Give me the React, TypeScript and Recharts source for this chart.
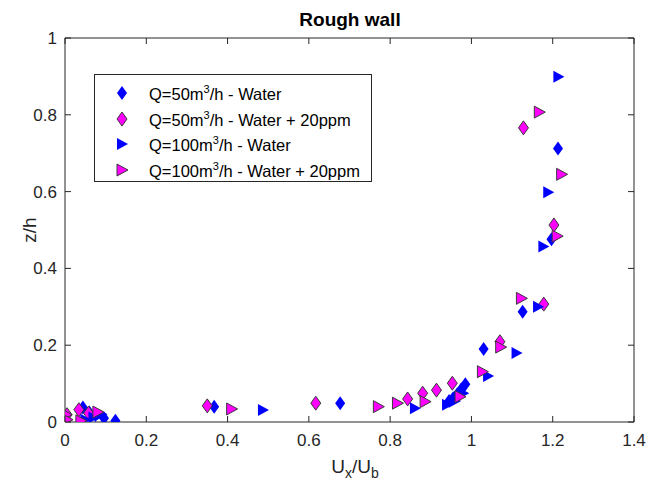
import React from 'react';
import { ScatterChart, Scatter, XAxis, YAxis } from 'recharts';

// Q=50 m3/h - Water (blue diamonds)
const q50Water = [
  { x: 0.124, y: 0.003 }, { x: 0.096, y: 0.010 }, { x: 0.075, y: 0.018 }, { x: 0.060, y: 0.025 },
  { x: 0.044, y: 0.038 }, { x: 0.367, y: 0.040 }, { x: 0.677, y: 0.049 }, { x: 0.945, y: 0.055 },
  { x: 0.955, y: 0.062 }, { x: 0.965, y: 0.072 }, { x: 0.975, y: 0.085 }, { x: 0.985, y: 0.098 },
  { x: 1.030, y: 0.190 }, { x: 1.126, y: 0.287 }, { x: 1.197, y: 0.476 }, { x: 1.213, y: 0.712 },
];
// Q=50 m3/h - Water + 20ppm (magenta diamonds)
const q50Polymer = [
  { x: 0.005, y: 0.019 }, { x: 0.034, y: 0.032 }, { x: 0.058, y: 0.023 }, { x: 0.350, y: 0.042 },
  { x: 0.617, y: 0.049 }, { x: 0.843, y: 0.060 }, { x: 0.880, y: 0.075 }, { x: 0.914, y: 0.083 },
  { x: 0.953, y: 0.101 }, { x: 1.070, y: 0.209 }, { x: 1.178, y: 0.307 }, { x: 1.203, y: 0.513 },
  { x: 1.128, y: 0.766 },
];
// Q=100 m3/h - Water (blue right triangles)
const q100Water = [
  { x: 0.050, y: 0.006 }, { x: 0.070, y: 0.012 }, { x: 0.090, y: 0.020 }, { x: 0.487, y: 0.031 },
  { x: 0.861, y: 0.036 }, { x: 0.940, y: 0.045 }, { x: 0.960, y: 0.055 }, { x: 0.980, y: 0.075 },
  { x: 1.041, y: 0.120 }, { x: 1.111, y: 0.180 }, { x: 1.164, y: 0.300 }, { x: 1.177, y: 0.457 },
  { x: 1.189, y: 0.598 }, { x: 1.214, y: 0.899 },
];
// Q=100 m3/h - Water + 20ppm (magenta right triangles)
const q100Polymer = [
  { x: 0.003, y: 0.019 }, { x: 0.005, y: 0.006 }, { x: 0.039, y: 0.003 }, { x: 0.081, y: 0.026 },
  { x: 0.410, y: 0.034 }, { x: 0.771, y: 0.040 }, { x: 0.818, y: 0.049 }, { x: 0.886, y: 0.053 },
  { x: 0.972, y: 0.066 }, { x: 1.027, y: 0.131 }, { x: 1.072, y: 0.195 }, { x: 1.123, y: 0.322 },
  { x: 1.211, y: 0.484 }, { x: 1.222, y: 0.645 }, { x: 1.167, y: 0.807 },
];

const xTicks = [0, 0.2, 0.4, 0.6, 0.8, 1, 1.2, 1.4];
const yTicks = [0, 0.2, 0.4, 0.6, 0.8, 1];

const AX = '#262626';
const BLUE = '#0000FF';
const MAGENTA = '#FF00FF';
const EDGE = '#3a3a3a';
const FONT = 'Liberation Sans, Arial, Helvetica, sans-serif';

const fmt = (v: number) => String(v);

const diamondPath = (cx: number, cy: number) =>
  `M${cx},${cy - 7} L${cx + 5},${cy} L${cx},${cy + 7} L${cx - 5},${cy} Z`;
const triPath = (cx: number, cy: number) =>
  `M${cx - 5},${cy - 6} L${cx + 6},${cy} L${cx - 5},${cy + 6} Z`;

const makeShape = (kind: 'd' | 't', fill: string, stroke?: string) => (props: any) => {
  const { cx, cy } = props;
  if (cx == null || cy == null) return <g />;
  const d = kind === 'd' ? diamondPath(cx, cy) : triPath(cx, cy);
  return <path d={d} fill={fill} stroke={stroke || 'none'} strokeWidth={stroke ? 1 : 0} />;
};

const BottomTick = (props: any) => {
  const { x, y, payload } = props;
  return (
    <g>
      <line x1={x} x2={x} y1={y} y2={y - 6} stroke={AX} />
      <text x={x} y={y + 24} textAnchor="middle" fontSize={17} fontFamily={FONT} fill={AX}>
        {fmt(payload.value)}
      </text>
    </g>
  );
};
const TopTick = (props: any) => {
  const { x, y } = props;
  return <line x1={x} x2={x} y1={y} y2={y + 6} stroke={AX} />;
};
const LeftTick = (props: any) => {
  const { x, y, payload } = props;
  return (
    <g>
      <line x1={x} x2={x + 6} y1={y} y2={y} stroke={AX} />
      <text x={x - 8} y={y + 6} textAnchor="end" fontSize={17} fontFamily={FONT} fill={AX}>
        {fmt(payload.value)}
      </text>
    </g>
  );
};
const RightTick = (props: any) => {
  const { x, y } = props;
  return <line x1={x} x2={x - 6} y1={y} y2={y} stroke={AX} />;
};

const legendItems = [
  { kind: 'd' as const, fill: BLUE, stroke: undefined, pre: 'Q=50m', post: '/h - Water' },
  { kind: 'd' as const, fill: MAGENTA, stroke: EDGE, pre: 'Q=50m', post: '/h - Water + 20ppm' },
  { kind: 't' as const, fill: BLUE, stroke: undefined, pre: 'Q=100m', post: '/h - Water' },
  { kind: 't' as const, fill: MAGENTA, stroke: EDGE, pre: 'Q=100m', post: '/h - Water + 20ppm' },
];

export default function App() {
  return (
    <div style={{ position: 'absolute', left: 0, top: 0, width: 648, height: 485, background: '#fff', fontFamily: FONT }}>
      <ScatterChart width={648} height={485} margin={{ top: 37, right: 13, bottom: 0, left: 0 }}>
        <XAxis
          xAxisId={0}
          type="number"
          dataKey="x"
          domain={[0, 1.4]}
          ticks={xTicks}
          height={63}
          tickSize={0}
          tickMargin={0}
          tickLine={false}
          axisLine={{ stroke: AX }}
          tick={<BottomTick />}
          interval={0}
          allowDataOverflow
        />
        <XAxis
          xAxisId="top"
          orientation="top"
          type="number"
          dataKey="x"
          domain={[0, 1.4]}
          ticks={xTicks}
          height={1}
          tickSize={0}
          tickMargin={0}
          tickLine={false}
          axisLine={{ stroke: AX }}
          tick={<TopTick />}
          interval={0}
          allowDataOverflow
        />
        <YAxis
          yAxisId={0}
          type="number"
          dataKey="y"
          domain={[0, 1]}
          ticks={yTicks}
          width={65}
          tickSize={0}
          tickMargin={0}
          tickLine={false}
          axisLine={{ stroke: AX }}
          tick={<LeftTick />}
          interval={0}
          allowDataOverflow
        />
        <YAxis
          yAxisId="right"
          orientation="right"
          type="number"
          dataKey="y"
          domain={[0, 1]}
          ticks={yTicks}
          width={1}
          tickSize={0}
          tickMargin={0}
          tickLine={false}
          axisLine={{ stroke: AX }}
          tick={<RightTick />}
          interval={0}
          allowDataOverflow
        />
        <Scatter name="Q=50m3/h - Water" data={q50Water} xAxisId={0} yAxisId={0} shape={makeShape('d', BLUE)} isAnimationActive={false} />
        <Scatter name="Q=50m3/h - Water + 20ppm" data={q50Polymer} xAxisId={0} yAxisId={0} shape={makeShape('d', MAGENTA, EDGE)} isAnimationActive={false} />
        <Scatter name="Q=100m3/h - Water" data={q100Water} xAxisId={0} yAxisId={0} shape={makeShape('t', BLUE)} isAnimationActive={false} />
        <Scatter name="Q=100m3/h - Water + 20ppm" data={q100Polymer} xAxisId="top" yAxisId="right" shape={makeShape('t', MAGENTA, EDGE)} isAnimationActive={false} />
      </ScatterChart>

      <div style={{ position: 'absolute', left: 0, width: 648, top: 9, textAlign: 'center', paddingLeft: 52, boxSizing: 'border-box', fontWeight: 'bold', fontSize: 19, color: '#000', lineHeight: '22px' }}>
        Rough wall
      </div>

      <div style={{ position: 'absolute', left: 30, top: 230, transform: 'translate(-50%, -50%) rotate(-90deg)', fontSize: 19, color: AX, whiteSpace: 'nowrap', lineHeight: '22px' }}>
        z/h
      </div>

      <div style={{ position: 'absolute', left: 355, top: 467, transform: 'translate(-50%, -50%)', fontSize: 19, color: AX, whiteSpace: 'nowrap', lineHeight: '22px' }}>
        U<span style={{ fontSize: 14, position: 'relative', top: 5 }}>x</span>/U<span style={{ fontSize: 14, position: 'relative', top: 5 }}>b</span>
      </div>

      <div style={{ position: 'absolute', left: 94, top: 74, width: 278, height: 108, boxSizing: 'border-box', border: '1px solid ' + AX, background: '#fff' }}>
        {legendItems.map((it, i) => (
          <div key={i} style={{ position: 'absolute', left: 0, top: 7 + i * 25.6, height: 24, width: 276 }}>
            <svg width={20} height={24} style={{ position: 'absolute', left: 17, top: 0 }}>
              <path d={it.kind === 'd' ? diamondPath(10, 11) : triPath(10, 11)} fill={it.fill} stroke={it.stroke || 'none'} strokeWidth={it.stroke ? 1 : 0} />
            </svg>
            <div style={{ position: 'absolute', left: 54, top: 1, fontSize: 16.5, lineHeight: '22px', color: '#000', whiteSpace: 'nowrap' }}>
              {it.pre}
              <span style={{ fontSize: 11, position: 'relative', top: -7 }}>3</span>
              {it.post}
            </div>
          </div>
        ))}
      </div>
    </div>
  );
}
